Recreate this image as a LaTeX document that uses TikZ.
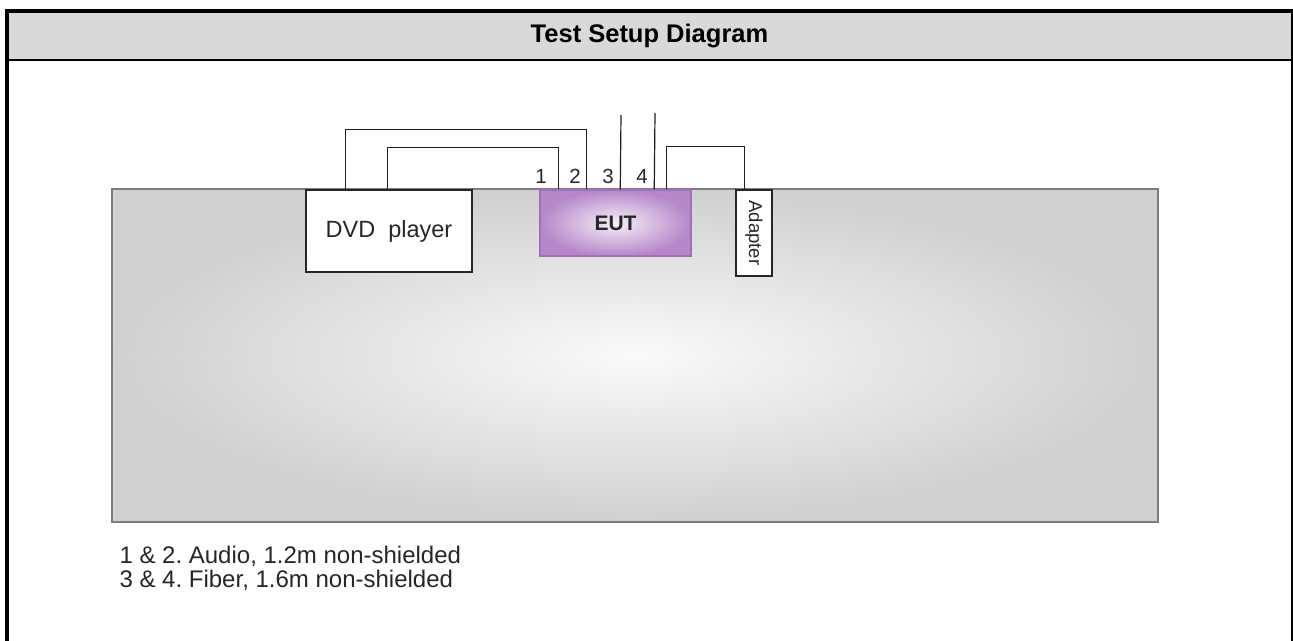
\documentclass[tikz,border=0pt]{standalone}
\usepackage{fontspec}
\setmainfont{Liberation Sans}
\usepackage{tikz}
\usetikzlibrary{positioning,calc}
\usepackage{xcolor}
\frenchspacing
\definecolor{HeadGray}{RGB}{217,217,217}
\definecolor{TableEdge}{RGB}{208,208,208}
\definecolor{TableMid}{RGB}{250,250,250}
\definecolor{TableLine}{RGB}{125,125,125}
\definecolor{EUTedge}{RGB}{182,136,202}
\definecolor{EUTmid}{RGB}{245,239,247}
\definecolor{EUTline}{RGB}{165,110,185}
\definecolor{CableColor}{RGB}{30,30,30}
\tikzset{
  box/.style={draw=black!85, line width=1.3pt, fill=white, inner sep=0pt},
  cable/.style={draw=CableColor, line width=1.2pt},
}

\begin{document}
\begin{tikzpicture}[x=1pt,y=-1pt,every node/.style={font=\fontsize{23.5}{24}\selectfont,text=black!85}]
\useasboundingbox (0,0) rectangle (1293,640);
\fill[HeadGray] (7,11) rectangle (1292.5,60);
\draw[line width=4pt] (7,650) -- (7,11) -- (1292.5,11) -- (1292.5,650);
\draw[line width=2.5pt] (7,60) -- (1292.5,60);
\node[font=\bfseries\fontsize{25.5}{26}\selectfont,text=black] (title) at (649.5,36) {Test Setup Diagram};
\node[draw=TableLine,line width=2pt,inner color=TableMid,outer color=TableEdge,
  minimum width=1046pt,minimum height=333pt] (table) at (635,355.5) {};
\node[box,minimum width=166pt,minimum height=82pt] (dvd) at (389,231) {DVD\ \ player};
\node[draw=EUTline,line width=1.5pt,inner color=EUTmid,outer color=EUTedge,
  minimum width=151pt,minimum height=66pt,font=\bfseries\fontsize{21}{22}\selectfont] (eut) at (615.5,223) {EUT};
\node[box,minimum width=36pt,minimum height=86pt] (adapter) at (754,233) {};
\node[rotate=-90,font=\fontsize{18.5}{19}\selectfont] (adaptertext) at (adapter.center) {Adapter};
% cables
\draw[cable] ([xshift=40pt]dvd.north west) -- ++(0,-60) -| ([xshift=47pt]eut.north west);
\draw[cable] ([xshift=82pt]dvd.north west) -- ++(0,-42) -| ([xshift=19pt]eut.north west);
\coordinate (fiberA) at (621,115);
\coordinate (fiberB) at (655,113);
\draw[cable] ([xshift=81pt]eut.north west) -- (fiberA);
\draw[cable] ([xshift=115pt]eut.north west) -- (fiberB);
\draw[cable] ([xshift=127pt]eut.north west) -- ++(0,-43) -| ([xshift=9pt]adapter.north west);
\foreach \n/\x in {1/541,2/575,3/608,4/642}
  \node[anchor=base,font=\fontsize{20.5}{21}\selectfont] (port\n) at (\x,183) {\n};
\node[anchor=base west,font=\fontsize{24}{24}\selectfont] (legendA) at (116,563) {1 \& 2. Audio, 1.2m non-shielded};
\node[anchor=base west,font=\fontsize{24}{24}\selectfont] (legendB) at (116,587) {3 \& 4. Fiber, 1.6m non-shielded};
\end{tikzpicture}
\end{document}
